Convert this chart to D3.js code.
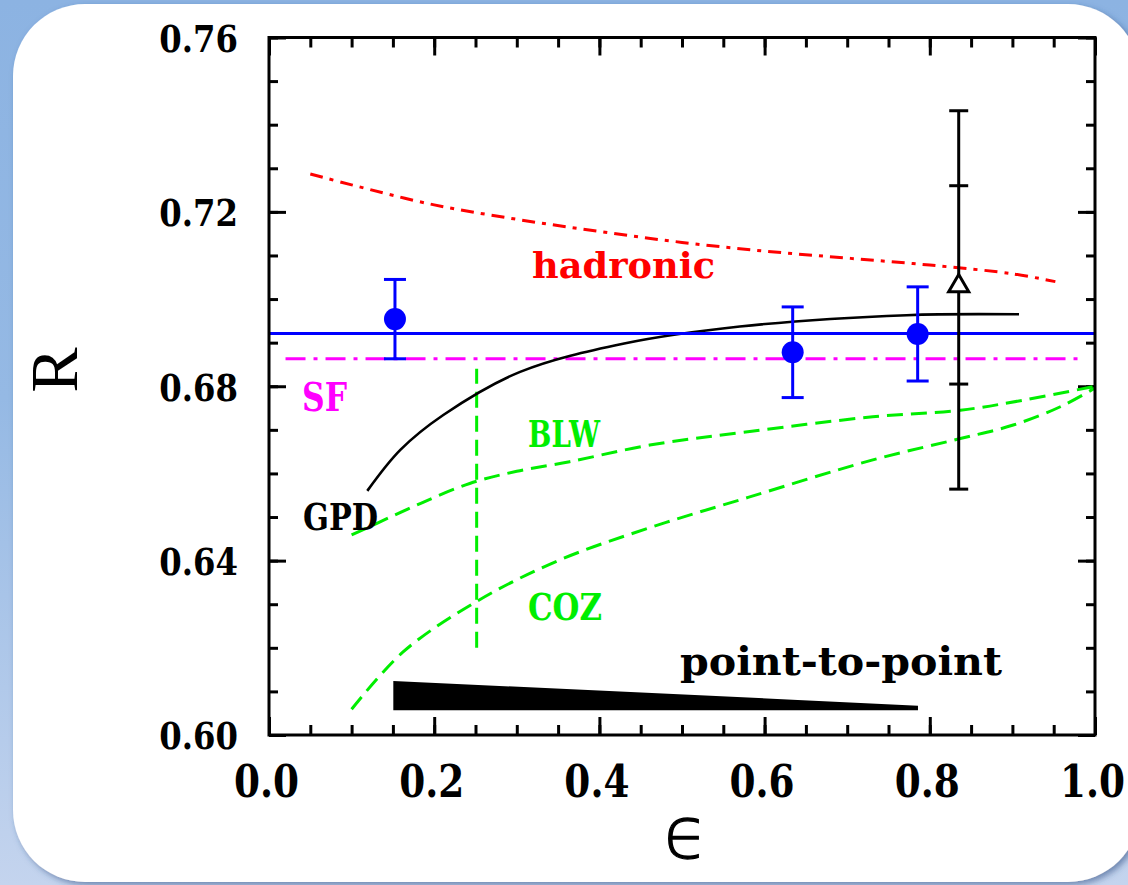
<!DOCTYPE html>
<html>
<head>
<meta charset="utf-8">
<script src="https://cdn.jsdelivr.net/npm/d3@7"></script>
<style>
  html, body { margin: 0; padding: 0; overflow: hidden; background: #ffffff; }
  svg { display: block; }
</style>
</head>
<body>
<svg id="chart" width="1128" height="885"></svg>
<script>
// ---- axes ----
const xDomain = [0, 1];
const yDomain = [0.60, 0.76];
const xTickValues = [0.0, 0.2, 0.4, 0.6, 0.8, 1.0];
const xTickLabels = ["0.0", "0.2", "0.4", "0.6", "0.8", "1.0"];
const xMinorTicks = d3.range(0, 1.0001, 0.05);
const yTickValues = [0.60, 0.64, 0.68, 0.72, 0.76];
const yTickLabels = ["0.60", "0.64", "0.68", "0.72", "0.76"];
const yMinorTicks = d3.range(0.60, 0.7601, 0.01);

// ---- measurements (blue points) ----
const dataEps = [0.1525, 0.634, 0.7853];
const dataR   = [0.6954, 0.6878, 0.6920];
const dataErr = [0.0091, 0.0104, 0.0108];

// constant fit through the measurements
const fitR = 0.6921;

// earlier measurement (open triangle)
const prevEps = 0.835;
const prevR = 0.703;
const prevInner = [0.6805, 0.7260];
const prevOuter = [0.6564, 0.7432];

// ---- calculations ----
const sfEps = [0.02, 0.98];
const sfR = 0.6863;

const hadronicEps = [0.05, 0.10, 0.20, 0.30, 0.40, 0.50, 0.60, 0.70, 0.80, 0.90, 0.952];
const hadronicR   = [0.7287, 0.7262, 0.7216, 0.7183, 0.7155, 0.7130, 0.7110, 0.7094, 0.7078, 0.7058, 0.7040];

const gpdEps = [0.119, 0.159, 0.211, 0.304, 0.430, 0.570, 0.772, 0.908];
const gpdR   = [0.6560, 0.6654, 0.6734, 0.6833, 0.6898, 0.6937, 0.6963, 0.6965];

const blwEps = [0.100, 0.130, 0.183, 0.243, 0.300, 0.364, 0.461, 0.582, 0.731, 0.837, 0.913, 1.000];
const blwR   = [0.6459, 0.6485, 0.6531, 0.6577, 0.6605, 0.6627, 0.6665, 0.6696, 0.6730, 0.6745, 0.6768, 0.6800];

const cozEps = [0.100, 0.162, 0.252, 0.350, 0.460, 0.580, 0.731, 0.837, 0.901, 0.958, 1.000];
const cozR   = [0.6059, 0.6190, 0.6307, 0.6400, 0.6475, 0.6545, 0.6631, 0.6680, 0.6711, 0.6753, 0.6796];

// low-epsilon cut
const cutEps = 0.2514;
const cutR = [0.620, 0.684];

// point-to-point systematic band
const p2pEps = [0.1505, 0.634, 0.7857];
const p2pBase = 0.6057;
const p2pSize = [0.0067, 0.0024, 0.0010];

// ---- annotations (anchored in data coordinates) ----
const notes = [
  { text: "hadronic",       eps: 0.3184, r: 0.7048, color: "#ff0000", size: 35, len: 183 },
  { text: "SF",             eps: 0.0400, r: 0.6743, color: "#ff00ff", size: 40, len: 45 },
  { text: "GPD",            eps: 0.0412, r: 0.6470, color: "#000000", size: 38, len: 75 },
  { text: "BLW",            eps: 0.3136, r: 0.6661, color: "#00ee00", size: 38, len: 72 },
  { text: "COZ",            eps: 0.3136, r: 0.6264, color: "#00ee00", size: 38, len: 74 },
  { text: "point-to-point", eps: 0.4976, r: 0.6138, color: "#000000", size: 40, len: 322 }
];

// ---- layout ----
const W = 1128, H = 885;
const plot = { left: 269, right: 1095, top: 37.5, bottom: 735 };
const GREEN = "#00ee00";
const SERIF_BOLD = "'DejaVu Serif', serif";

const svg = d3.select("#chart");
const defs = svg.append("defs");

const bg = defs.append("linearGradient").attr("id", "bg").attr("x1", 0).attr("y1", 0).attr("x2", 0).attr("y2", 1);
bg.append("stop").attr("offset", "0").attr("stop-color", "#8cb3e2");
bg.append("stop").attr("offset", "0.45").attr("stop-color", "#95b9e4");
bg.append("stop").attr("offset", "1").attr("stop-color", "#c4d4ee");

const shadow = defs.append("filter").attr("id", "shadow")
  .attr("x", "-5%").attr("y", "-5%").attr("width", "115%").attr("height", "115%");
shadow.append("feDropShadow").attr("dx", 3).attr("dy", 3).attr("stdDeviation", 3)
  .attr("flood-color", "#2b4a7e").attr("flood-opacity", 0.55);

svg.append("rect").attr("width", W).attr("height", H).attr("fill", "url(#bg)");
svg.append("rect").attr("x", 13).attr("y", 4).attr("width", 1127).attr("height", 878)
  .attr("rx", 72).attr("ry", 72).attr("fill", "#ffffff").attr("filter", "url(#shadow)");

const x = d3.scaleLinear().domain(xDomain).range([plot.left, plot.right]);
const y = d3.scaleLinear().domain(yDomain).range([plot.bottom, plot.top]);

const g = svg.append("g");

// ---- ticks on all four sides, pointing inward ----
function styleAxis(sel) {
  sel.select(".domain").remove();
  sel.selectAll(".tick line").attr("stroke", "#000").attr("stroke-width", 3);
}
const noLabel = () => "";

g.append("g").attr("transform", `translate(0,${plot.bottom})`)
  .call(d3.axisBottom(x).tickValues(xMinorTicks).tickSize(-10).tickFormat(noLabel)).call(styleAxis);
g.append("g").attr("transform", `translate(0,${plot.top})`)
  .call(d3.axisTop(x).tickValues(xMinorTicks).tickSize(-10).tickFormat(noLabel)).call(styleAxis);
g.append("g").attr("transform", `translate(${plot.left},0)`)
  .call(d3.axisLeft(y).tickValues(yMinorTicks).tickSize(-9).tickFormat(noLabel)).call(styleAxis);
g.append("g").attr("transform", `translate(${plot.right},0)`)
  .call(d3.axisRight(y).tickValues(yMinorTicks).tickSize(-9).tickFormat(noLabel)).call(styleAxis);

const xAxisMajor = g.append("g").attr("transform", `translate(0,${plot.bottom})`)
  .call(d3.axisBottom(x).tickValues(xTickValues).tickSize(-18)
    .tickFormat((d, i) => xTickLabels[i])).call(styleAxis);
xAxisMajor.selectAll(".tick text")
  .attr("x", 0).attr("y", 0).attr("dy", 0)
  .attr("transform", "translate(-3,62) scale(0.85,1)")
  .attr("font-family", SERIF_BOLD).attr("font-weight", "bold").attr("font-size", 44)
  .attr("fill", "#000").attr("text-anchor", "middle");

g.append("g").attr("transform", `translate(0,${plot.top})`)
  .call(d3.axisTop(x).tickValues(xTickValues).tickSize(-18).tickFormat(noLabel)).call(styleAxis);

const yAxisMajor = g.append("g").attr("transform", `translate(${plot.left},0)`)
  .call(d3.axisLeft(y).tickValues(yTickValues).tickSize(-17)
    .tickFormat((d, i) => yTickLabels[i])).call(styleAxis);
yAxisMajor.selectAll(".tick text")
  .attr("x", 0).attr("y", 0).attr("dy", "0.365em")
  .attr("transform", "translate(-31,0) scale(0.85,1)")
  .attr("font-family", SERIF_BOLD).attr("font-weight", "bold").attr("font-size", 38)
  .attr("fill", "#000").attr("text-anchor", "end");

g.append("g").attr("transform", `translate(${plot.right},0)`)
  .call(d3.axisRight(y).tickValues(yTickValues).tickSize(-17).tickFormat(noLabel)).call(styleAxis);

// ---- curves ----
const line = d3.line().x(d => x(d[0])).y(d => y(d[1])).curve(d3.curveCatmullRom.alpha(0.5));
const zip = (a, b) => a.map((v, i) => [v, b[i]]);

// low-epsilon cut
g.append("line")
  .attr("x1", x(cutEps)).attr("x2", x(cutEps)).attr("y1", y(cutR[0])).attr("y2", y(cutR[1]))
  .attr("stroke", GREEN).attr("stroke-width", 3).attr("stroke-dasharray", "16,8");

g.append("path").datum(zip(cozEps, cozR)).attr("d", line)
  .attr("fill", "none").attr("stroke", GREEN).attr("stroke-width", 3).attr("stroke-dasharray", "16,8");
g.append("path").datum(zip(blwEps, blwR)).attr("d", line)
  .attr("fill", "none").attr("stroke", GREEN).attr("stroke-width", 3).attr("stroke-dasharray", "16,8");

g.append("path").datum(zip(hadronicEps, hadronicR)).attr("d", line)
  .attr("fill", "none").attr("stroke", "#ff0000").attr("stroke-width", 3).attr("stroke-dasharray", "13,7,4,7");

g.append("line")
  .attr("x1", x(sfEps[0])).attr("x2", x(sfEps[1])).attr("y1", y(sfR)).attr("y2", y(sfR))
  .attr("stroke", "#ff00ff").attr("stroke-width", 3).attr("stroke-dasharray", "20,8,4,8");

g.append("path").datum(zip(gpdEps, gpdR)).attr("d", line)
  .attr("fill", "none").attr("stroke", "#000").attr("stroke-width", 2.6);

// constant fit
g.append("line")
  .attr("x1", x(xDomain[0])).attr("x2", x(xDomain[1])).attr("y1", y(fitR)).attr("y2", y(fitR))
  .attr("stroke", "#0000ff").attr("stroke-width", 3);

// point-to-point band
const band = d3.area().x(d => x(d[0])).y0(y(p2pBase)).y1(d => y(p2pBase + d[1]));
g.append("path").datum(zip(p2pEps, p2pSize)).attr("d", band).attr("fill", "#000");

// ---- earlier measurement with its error bars ----
g.append("line")
  .attr("x1", x(prevEps)).attr("x2", x(prevEps)).attr("y1", y(prevOuter[0])).attr("y2", y(prevOuter[1]))
  .attr("stroke", "#000").attr("stroke-width", 3);
g.selectAll(".prevcap").data(prevInner.concat(prevOuter)).join("line").attr("class", "prevcap")
  .attr("x1", x(prevEps) - 9.5).attr("x2", x(prevEps) + 9.5)
  .attr("y1", d => y(d)).attr("y2", d => y(d))
  .attr("stroke", "#000").attr("stroke-width", 3);
g.append("path")
  .attr("d", d3.symbol(d3.symbolTriangle, 175)())
  .attr("transform", `translate(${x(prevEps)},${y(prevR)})`)
  .attr("fill", "#fff").attr("stroke", "#000").attr("stroke-width", 3);

// ---- measurements ----
const pts = dataEps.map((e, i) => ({ e, r: dataR[i], err: dataErr[i] }));
const pg = g.selectAll(".pt").data(pts).join("g").attr("class", "pt");
pg.append("line")
  .attr("x1", d => x(d.e)).attr("x2", d => x(d.e))
  .attr("y1", d => y(d.r - d.err)).attr("y2", d => y(d.r + d.err))
  .attr("stroke", "#0000ff").attr("stroke-width", 3);
pg.append("line")
  .attr("x1", d => x(d.e) - 11).attr("x2", d => x(d.e) + 11)
  .attr("y1", d => y(d.r + d.err)).attr("y2", d => y(d.r + d.err))
  .attr("stroke", "#0000ff").attr("stroke-width", 3);
pg.append("line")
  .attr("x1", d => x(d.e) - 11).attr("x2", d => x(d.e) + 11)
  .attr("y1", d => y(d.r - d.err)).attr("y2", d => y(d.r - d.err))
  .attr("stroke", "#0000ff").attr("stroke-width", 3);
pg.append("circle")
  .attr("cx", d => x(d.e)).attr("cy", d => y(d.r)).attr("r", 11)
  .attr("fill", "#0000ff");

// ---- frame ----
g.append("rect")
  .attr("x", plot.left).attr("y", plot.top)
  .attr("width", plot.right - plot.left).attr("height", plot.bottom - plot.top)
  .attr("fill", "none").attr("stroke", "#000").attr("stroke-width", 3);

// ---- annotations ----
g.selectAll(".note").data(notes).join("text").attr("class", "note")
  .attr("x", d => x(d.eps)).attr("y", d => y(d.r))
  .attr("font-family", SERIF_BOLD).attr("font-weight", "bold")
  .attr("font-size", d => d.size).attr("fill", d => d.color)
  .attr("textLength", d => d.len).attr("lengthAdjust", "spacingAndGlyphs")
  .text(d => d.text);

// ---- axis titles ----
svg.append("text")
  .attr("transform", "translate(77,370) rotate(-90)")
  .attr("text-anchor", "middle")
  .attr("font-family", "'Liberation Serif', serif").attr("font-size", 68)
  .attr("fill", "#000").text("R");

svg.append("text")
  .attr("x", 686).attr("y", 858)
  .attr("text-anchor", "middle")
  .attr("font-family", "'DejaVu Sans', sans-serif").attr("font-weight", 200).attr("font-size", 72)
  .attr("fill", "#000").attr("stroke", "#000").attr("stroke-width", 1.3)
  .text("ϵ");
</script>
</body>
</html>
